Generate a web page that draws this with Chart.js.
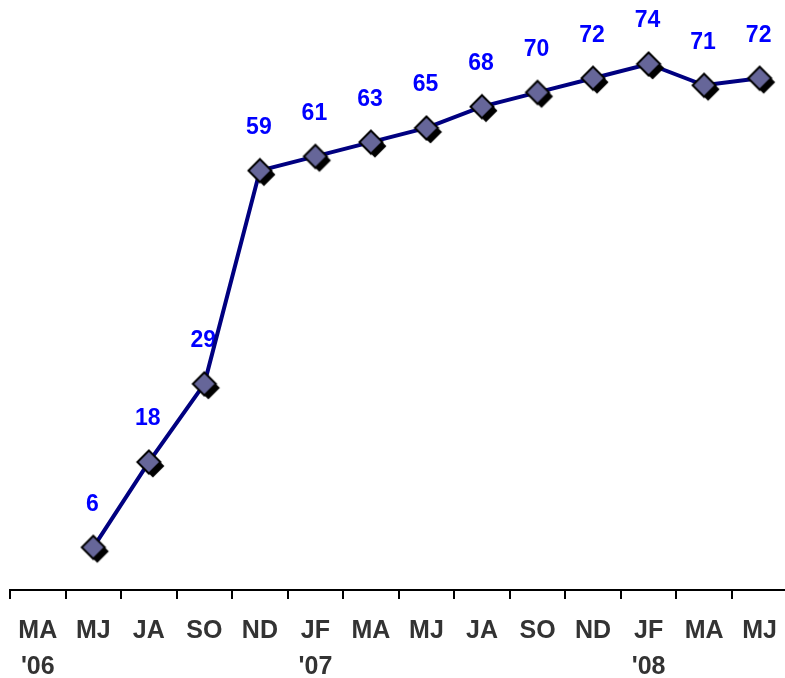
<!DOCTYPE html>
<html>
<head>
<meta charset="utf-8">
<script src="https://cdn.jsdelivr.net/npm/chart.js@4/dist/chart.umd.min.js"></script>
<style>
  html, body { margin: 0; padding: 0; background: #fff; overflow: hidden; }
  #wrap { width: 791px; height: 678px; position: relative; }
</style>
</head>
<body>
<div id="wrap"><canvas id="chart"></canvas></div>
<script>
// Two-month periods, with the year shown under the first period of each year
const periods = ['MA', 'MJ', 'JA', 'SO', 'ND', 'JF', 'MA', 'MJ', 'JA', 'SO', 'ND', 'JF', 'MA', 'MJ'];
const yearLabels = ["'06", '', '', '', '', "'07", '', '', '', '', '', "'08", '', ''];
const values = [null, 6, 18, 29, 59, 61, 63, 65, 68, 70, 72, 74, 71, 72];

const labels = periods.map((p, i) => yearLabels[i] ? [p, yearLabels[i]] : p);

// Diamond marker with a solid drop shadow
function makeMarker() {
  const c = document.createElement('canvas');
  const s = 40, r = 11.5, off = 4;
  c.width = s; c.height = s;
  const g = c.getContext('2d');
  const diamond = (cx, cy) => {
    g.beginPath();
    g.moveTo(cx, cy - r);
    g.lineTo(cx + r, cy);
    g.lineTo(cx, cy + r);
    g.lineTo(cx - r, cy);
    g.closePath();
  };
  diamond(s / 2 + off, s / 2 + off);
  g.fillStyle = '#000';
  g.fill();
  diamond(s / 2, s / 2);
  g.fillStyle = '#666699';
  g.fill();
  g.lineWidth = 2;
  g.strokeStyle = '#000';
  g.stroke();
  return c;
}

const valueLabels = {
  id: 'valueLabels',
  beforeDatasetsDraw(chart) {
    const ctx = chart.ctx;
    const meta = chart.getDatasetMeta(0);
    ctx.save();
    ctx.font = 'bold 23px "Liberation Sans", Arial, sans-serif';
    ctx.fillStyle = '#0000FF';
    ctx.textAlign = 'center';
    ctx.textBaseline = 'middle';
    meta.data.forEach((pt, i) => {
      const v = values[i];
      if (v === null) return;
      ctx.fillText(String(v), pt.x - 1, pt.y - 43);
    });
    ctx.restore();
  }
};

new Chart(document.getElementById('chart'), {
  type: 'line',
  data: {
    labels: labels,
    datasets: [{
      data: values,
      borderColor: '#000080',
      borderWidth: 4,
      tension: 0,
      pointStyle: makeMarker(),
      pointRadius: 12,
      pointHoverRadius: 12,
      spanGaps: false
    }]
  },
  options: {
    responsive: true,
    maintainAspectRatio: false,
    animation: false,
    events: [],
    layout: { autoPadding: false, padding: { left: 10, right: 0, top: 0, bottom: 0 } },
    plugins: { legend: { display: false }, tooltip: { enabled: false } },
    scales: {
      x: {
        offset: true,
        grid: {
          offset: true,
          drawOnChartArea: false,
          drawTicks: true,
          tickLength: 9,
          color: '#000',
          lineWidth: 2
        },
        border: { display: true, color: '#000', width: 2 },
        ticks: {
          autoSkip: false,
          maxRotation: 0,
          padding: 14,
          color: '#333333',
          font: { family: '"Liberation Sans", Arial, sans-serif', size: 25, weight: 'bold', lineHeight: 1.45 }
        },
        afterFit(scale) { scale.height = 88; }
      },
      y: {
        display: false,
        min: 0,
        max: 83
      }
    }
  },
  plugins: [valueLabels]
});
</script>
</body>
</html>
